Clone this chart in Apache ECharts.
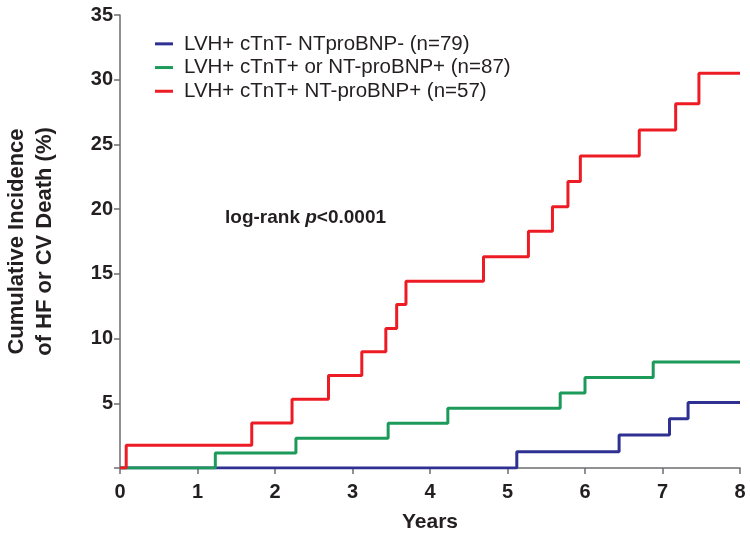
<!DOCTYPE html>
<html>
<head>
<meta charset="utf-8">
<script src="https://cdn.jsdelivr.net/npm/echarts@6/dist/echarts.min.js"></script>
<style>
html,body{margin:0;padding:0;background:#fff;}
#chart{width:750px;height:537px;}
</style>
</head>
<body>
<div id="chart"></div>
<script>
// Data
const seriesNames = [
  'LVH+ cTnT- NTproBNP- (n=79)',
  'LVH+ cTnT+ or NT-proBNP+ (n=87)',
  'LVH+ cTnT+ NT-proBNP+ (n=57)'
];
const blueTimes  = [0, 5.12, 6.44, 7.09, 7.33, 8];
const blueValues = [0, 1.25, 2.55, 3.80, 5.07, 5.07];
const greenTimes  = [0, 1.23, 2.27, 3.46, 4.23, 5.68, 6.00, 6.88, 8];
const greenValues = [0, 1.16, 2.30, 3.45, 4.62, 5.79, 7.00, 8.19, 8.19];
const redTimes  = [0, 0.08, 1.70, 2.22, 2.69, 3.12, 3.43, 3.57, 3.69, 4.69, 5.27, 5.58, 5.78, 5.94, 6.70, 7.17, 7.47, 8];
const redValues = [0, 1.75, 3.48, 5.32, 7.15, 8.98, 10.78, 12.64, 14.43, 16.33, 18.30, 20.18, 22.14, 24.10, 26.12, 28.14, 30.50, 30.50];
const xTicks = [0, 1, 2, 3, 4, 5, 6, 7, 8];
const yTicks = [0, 5, 10, 15, 20, 25, 30, 35];

function pairs(t, v) { return t.map((x, i) => [x, v[i]]); }

const colors = ['#2e3192', '#1b9a59', '#ed1c24'];
const axisColor = '#6d6e71';
const textColor = '#231f20';
const font = 'Liberation Sans, Arial, Helvetica, sans-serif';

const chart = echarts.init(document.getElementById('chart'), null, {renderer: 'canvas'});
chart.setOption({
  animation: false,
  backgroundColor: '#fff',
  grid: {left: 120, right: 10, top: 15, bottom: 69, containLabel: false, outerBoundsMode: 'none'},
  title: {
    left: 220, top: 203,
    text: '{a|log-rank }{b|p}{a|<0.0001}',
    textStyle: {
      rich: {
        a: {fontFamily: font, fontSize: 19, fontWeight: 'bold', color: textColor},
        b: {fontFamily: font, fontSize: 19, fontWeight: 'bold', fontStyle: 'italic', color: textColor}
      }
    }
  },
  legend: {
    orient: 'vertical',
    left: 155, top: 32, padding: 0,
    itemWidth: 18, itemHeight: 3, itemGap: 0,
    icon: 'rect',
    data: seriesNames,
    textStyle: {fontFamily: font, fontSize: 20.5, color: textColor, lineHeight: 23.7, padding: [0, 0, 0, 6]}
  },
  xAxis: {
    type: 'value', min: xTicks[0], max: xTicks[xTicks.length - 1], interval: 1,
    name: 'Years', nameLocation: 'middle', nameGap: 44,
    nameTextStyle: {fontFamily: font, fontSize: 21, fontWeight: 'bold', color: textColor},
    axisLine: {lineStyle: {color: axisColor, width: 1.5}},
    axisTick: {show: true, length: 6, lineStyle: {color: axisColor, width: 1.5}},
    axisLabel: {fontFamily: font, fontSize: 20, fontWeight: 'bold', color: textColor, margin: 14},
    splitLine: {show: false}
  },
  yAxis: {
    type: 'value', min: yTicks[0], max: yTicks[yTicks.length - 1], interval: 5,
    name: 'Cumulative Incidence\nof HF or CV Death (%)', nameLocation: 'middle', nameGap: 61,
    nameRotate: 90,
    nameTextStyle: {fontFamily: font, fontSize: 22, fontWeight: 'bold', color: textColor, lineHeight: 28, align: 'center'},
    axisLine: {show: true, lineStyle: {color: axisColor, width: 1.5}},
    axisTick: {show: true, length: 6, lineStyle: {color: axisColor, width: 1.5}},
    axisLabel: {
      fontFamily: font, fontSize: 20, fontWeight: 'bold', color: textColor, margin: 7,
      formatter: v => (v === 0 ? '' : String(v))
    },
    splitLine: {show: false}
  },
  series: [
    {name: seriesNames[0], type: 'line', step: 'end', showSymbol: false, data: pairs(blueTimes, blueValues),
     color: colors[0], lineStyle: {width: 3, color: colors[0]}, z: 2},
    {name: seriesNames[1], type: 'line', step: 'end', showSymbol: false, data: pairs(greenTimes, greenValues),
     color: colors[1], lineStyle: {width: 3, color: colors[1]}, z: 3},
    {name: seriesNames[2], type: 'line', step: 'end', showSymbol: false, data: pairs(redTimes, redValues),
     color: colors[2], lineStyle: {width: 3, color: colors[2]}, z: 4}
  ]
});
</script>
</body>
</html>
